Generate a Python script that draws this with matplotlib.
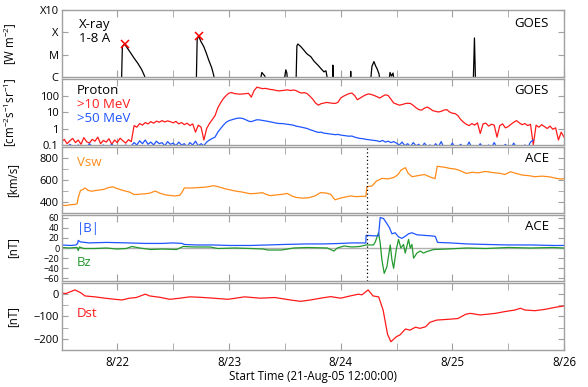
import numpy as np
import matplotlib
matplotlib.use("Agg")
import matplotlib.pyplot as plt
from matplotlib.ticker import FixedLocator, NullFormatter, NullLocator

plt.rcParams['font.family'] = ['Open Sans', 'DejaVu Sans']
plt.rcParams['mathtext.fontset'] = 'custom'
plt.rcParams['mathtext.rm'] = 'Open Sans'
plt.rcParams['mathtext.it'] = 'Open Sans'

# ---------------- data (time in days since 21-Aug-05 12:00) ----------------
xray_t = [0.0, 0.536, 0.545, 0.565, 0.592, 0.619, 0.650, 0.682, 0.717, 0.744, 0.762,
          1.206, 1.215, 1.229, 1.247, 1.274, 1.296, 1.318, 1.345, 1.363, 1.381,
          1.767, 1.794, 1.821, 1.839,
          1.982, 2.009, 2.018, 2.031,
          2.099, 2.108, 2.117, 2.143, 2.170, 2.197, 2.233, 2.260, 2.296, 2.323, 2.350, 2.368, 2.377, 2.395,
          2.426, 2.430, 2.436,
          2.585, 2.590, 2.596,
          2.762, 2.780, 2.798, 2.812, 2.825, 2.843, 2.861,
          2.924, 2.942, 2.955, 2.969, 2.987,
          3.686, 3.698, 3.709, 4.5]
xray_f = [3e-7, 3e-7, 2.4e-5, 3.0e-5, 1.9e-5, 1.2e-5, 7e-6, 4.2e-6, 2.2e-6, 1.1e-6, 3e-7,
          3e-7, 5e-5, 6.9e-5, 4e-5, 2.3e-5, 1.2e-5, 5.8e-6, 2.6e-6, 1.2e-6, 3e-7,
          3e-7, 1.6e-6, 1.1e-6, 3e-7,
          3e-7, 2.1e-6, 1.5e-6, 3e-7,
          3e-7, 2.5e-5, 3.0e-5, 2.3e-5, 1.6e-5, 1.1e-5, 8.1e-6, 5.2e-6, 3.4e-6, 2.4e-6, 1.7e-6, 1.9e-6, 1.1e-6, 3e-7,
          3e-7, 3.4e-6, 3e-7,
          3e-7, 1.8e-6, 3e-7,
          3e-7, 3e-6, 4.9e-6, 3.2e-6, 2.4e-6, 1.4e-6, 3e-7,
          3e-7, 1.6e-6, 1.1e-6, 1.5e-6, 3e-7,
          3e-7, 5.6e-5, 3e-7, 3e-7]
flare_t = [0.565, 1.229]
flare_f = [3.0e-5, 6.9e-5]

proton_step = 0.025
p10 = [0.15, 0.22, 0.12, 0.18, 0.25, 0.14, 0.2, 0.11, 0.28, 0.16, 0.13, 0.22, 0.17, 0.3, 0.12,
       0.19, 0.15, 0.24, 0.11, 0.2, 0.14, 0.26, 0.18, 0.13, 0.21, 0.16,
       1.5, 1.2, 2.0, 1.6, 2.3, 1.9, 2.6, 2.1, 2.8, 2.4, 3.0, 2.5, 2.9, 2.6, 2.2, 2.7, 1.9, 2.3,
       1.7, 2.1, 1.5, 1.9, 0.6, 1.6, 1.2, 0.2, 1.0, 2.0, 3.5, 6, 18, 36, 65, 100, 140, 150, 130,
       125, 120, 125, 130, 135, 80, 200, 320, 290, 260, 270, 250, 230, 220, 200, 190, 200, 210,
       220, 200, 215, 200, 160, 140, 150, 130, 90, 60, 35, 26, 32, 35, 38, 36, 34, 33, 38, 70,
       90, 110, 130, 140, 100, 55, 70, 90, 110, 125, 115, 100, 85, 70, 90, 110, 100, 60, 35, 30,
       26, 28, 32, 34, 33, 25, 18, 14, 13, 17, 20, 16, 12, 11, 10, 11, 13, 14, 10, 8.5, 8, 6,
       3.5, 2.4, 1.8, 1.5, 2.0, 1.6, 2.2, 0.5, 1.9, 2.1, 1.4, 1.8, 1.6, 0.3, 1.5, 1.9, 1.1, 1.3,
       1.8, 2.4, 3.0, 2.2, 1.7, 2.0, 1.5, 1.8, 0.1, 1.6, 1.2, 1.7, 1.3, 1.0, 1.4, 0.9, 1.1, 0.2,
       0.6, 0.3]
p50 = [0.08, 0.09, 0.07, 0.11, 0.08, 0.07, 0.1, 0.08, 0.09, 0.07, 0.12, 0.08, 0.07, 0.09,
       0.08, 0.1, 0.07, 0.08, 0.11, 0.08, 0.07, 0.09, 0.08, 0.1, 0.07, 0.09,
       0.14, 0.1, 0.18, 0.12, 0.2, 0.11, 0.15, 0.1, 0.17, 0.12, 0.14, 0.09, 0.16, 0.11, 0.13,
       0.09, 0.15, 0.1, 0.12, 0.08, 0.14, 0.1, 0.17, 0.09, 0.12, 0.09, 0.15, 0.2, 0.25, 0.3,
       0.6, 1.0, 1.6, 2.4, 3.0, 3.4, 3.8, 4.2, 4.3, 4.0, 3.4, 2.8, 2.6, 3.0, 3.4, 3.3, 3.1, 2.9,
       2.7, 2.5, 2.3, 2.1, 2.0, 2.0, 1.9, 1.8, 1.7, 1.6, 1.4, 1.3, 1.2, 1.1, 1.0, 0.85, 0.75,
       0.65, 0.58, 0.6, 0.52, 0.5, 0.47, 0.45, 0.42, 0.44, 0.4, 0.38, 0.36, 0.34, 0.35, 0.3,
       0.27, 0.25, 0.24, 0.22, 0.21, 0.2, 0.19, 0.18, 0.16, 0.19, 0.15, 0.17, 0.14, 0.16, 0.13,
       0.1, 0.15, 0.09, 0.12, 0.08, 0.14, 0.09, 0.11, 0.07, 0.13, 0.08, 0.1, 0.07, 0.12, 0.08,
       0.16, 0.07, 0.09, 0.07, 0.13, 0.07, 0.08, 0.11, 0.07, 0.07, 0.15, 0.07, 0.08, 0.07, 0.12,
       0.07, 0.07, 0.1, 0.07, 0.14, 0.07, 0.08, 0.07, 0.11, 0.07, 0.07, 0.13, 0.07, 0.08, 0.07,
       0.1, 0.07, 0.15, 0.2]

vsw_t = [0.0, 0.04, 0.08, 0.12, 0.14, 0.15, 0.17, 0.19, 0.21, 0.24, 0.27, 0.31, 0.345, 0.38,
         0.415, 0.46, 0.49, 0.52, 0.57, 0.61, 0.65, 0.685, 0.75, 0.79, 0.84, 0.88, 0.93, 0.97,
         1.02, 1.06, 1.08, 1.10, 1.15, 1.21, 1.29, 1.36, 1.40, 1.465, 1.51, 1.555, 1.62, 1.69,
         1.74, 1.80, 1.83, 1.87, 1.93, 1.98, 2.02, 2.07, 2.10, 2.155, 2.21, 2.27, 2.32, 2.37,
         2.41, 2.45, 2.50, 2.54, 2.59, 2.64, 2.69, 2.725, 2.735, 2.78, 2.82, 2.87, 2.925, 2.98,
         3.015, 3.04, 3.08, 3.105, 3.14, 3.195, 3.25, 3.30, 3.345, 3.365, 3.40, 3.435, 3.48,
         3.525, 3.57, 3.625, 3.68, 3.73, 3.795, 3.86, 3.93, 3.97, 4.02, 4.07, 4.125, 4.18, 4.24,
         4.305, 4.375, 4.43, 4.475, 4.5]
vsw_v = [372, 368, 375, 378, 385, 440, 505, 512, 528, 505, 498, 505, 510, 515, 530, 538, 525,
         515, 500, 490, 468, 470, 475, 480, 500, 480, 465, 460, 455, 462, 490, 528, 527, 530,
         535, 548, 540, 520, 510, 500, 490, 475, 478, 485, 470, 458, 465, 470, 478, 452, 442,
         435, 438, 455, 485, 482, 470, 420, 436, 445, 455, 448, 452, 450, 540, 545, 590, 615,
         610, 625, 650, 690, 712, 660, 630, 640, 650, 628, 612, 725, 720, 715, 705, 700, 685,
         660, 670, 665, 678, 668, 660, 650, 675, 660, 645, 640, 630, 635, 628, 615, 608, 615]

b_t = [0.0, 0.08, 0.13, 0.145, 0.15, 0.17, 0.25, 0.4, 0.6, 0.75, 0.9, 1.0, 1.08, 1.1, 1.2,
       1.35, 1.5, 1.7, 1.85, 2.0, 2.2, 2.35, 2.5, 2.6, 2.7, 2.725, 2.728, 2.794, 2.839, 2.854,
       2.884, 2.914, 2.937, 2.959, 2.988, 3.018, 3.048, 3.078, 3.108, 3.138, 3.183, 3.242,
       3.302, 3.347, 3.368, 3.481, 3.631, 3.8, 4.0, 4.2, 4.4, 4.5]
b_mag = [6, 5, 6, 9, 15, 12, 10, 11, 10, 9, 9, 10, 9, 7, 6, 6, 5, 5, 6, 7, 8, 8, 9, 10, 10,
         10, 25, 24, 24, 60, 58, 48, 40, 28, 30, 22, 19, 23, 28, 30, 26, 25, 24, 23, 11, 10, 8,
         7, 6, 6, 5, 5]
bz_t = [0.0, 0.07, 0.14, 0.15, 0.16, 0.2, 0.3, 0.4, 0.5, 0.58, 0.63, 0.7, 0.8, 0.9, 1.03,
        1.09, 1.19, 1.33, 1.4, 1.55, 1.7, 1.8, 1.85, 1.97, 2.08, 2.2, 2.38, 2.44, 2.47, 2.53,
        2.6, 2.67, 2.69, 2.728, 2.794, 2.81, 2.839, 2.854, 2.869, 2.89, 2.914, 2.944, 2.959,
        2.974, 2.998, 3.018, 3.039, 3.063, 3.078, 3.108, 3.123, 3.138, 3.153, 3.183, 3.212,
        3.242, 3.272, 3.332, 3.452, 3.631, 3.8, 4.0, 4.2, 4.4, 4.5]
bz_v = [1, 0, 1, -5, 2, -1, -1, 0, -2, -1, 3, 0, -3, -2, -3, 3, 2, 2, -1, 0, -1, -2, -4, -4,
        0, 1, 0, -6, 0, 4, 2, 3, 4, 6, 6, 12, 30, 10, -23, -50, -37, 6, -23, -40, -3, 17, 0, 7,
        -10, 17, 0, 7, -20, -10, -6, -10, -7, -3, -2, 0, -1, 1, 0, 1, 0]

dst_t = [0.0, 0.04, 0.12, 0.17, 0.21, 0.30, 0.39, 0.48, 0.54, 0.61, 0.67, 0.75, 0.79, 0.88,
         0.97, 1.06, 1.15, 1.24, 1.36, 1.49, 1.64, 1.78, 1.91, 2.05, 2.14, 2.23, 2.32, 2.41,
         2.50, 2.585, 2.66, 2.69, 2.746, 2.79, 2.84, 2.88, 2.92, 2.95, 3.0, 3.03, 3.08, 3.12,
         3.17, 3.21, 3.26, 3.30, 3.36, 3.48, 3.55, 3.62, 3.66, 3.75, 3.885, 3.97, 4.06, 4.11,
         4.15, 4.24, 4.33, 4.42, 4.5]
dst_v = [5, 3, 19, 7, -8, -12, -18, -23, -26, -18, -15, 0, -8, -14, -23, -18, -12, -14, -18,
         -23, -12, -18, -15, -26, -32, -26, -18, -11, -18, -8, 0, -3, 19, -8, -12, -71, -180,
         -213, -190, -183, -156, -161, -148, -153, -146, -126, -116, -112, -109, -90, -86, -93,
         -86, -78, -71, -63, -71, -74, -68, -59, -53]

shock_t = 2.733
day_ticks = [0.5, 1.5, 2.5, 3.5, 4.5]
day_labels = ['8/22', '8/23', '8/24', '8/25', '8/26']
halfday_ticks = [0.0, 1.0, 2.0, 3.0, 4.0]

# ---------------- figure ----------------
W, H = 588, 387
fig = plt.figure(figsize=(W / 100, H / 100), dpi=100)
left = 61.5 / W
width = (564 - 61.5) / W
panels_px = [(10, 77), (79, 145), (147, 213), (215, 281), (283, 350)]
axes = []
for top, bot in panels_px:
    ax = fig.add_axes([left, 1 - bot / H, width, (bot - top) / H])
    axes.append(ax)

frame_col = '#a0a0a0'
fs = 8.3
fs_y = 8.0
for ax in axes:
    ax.set_xlim(0, 4.5)
    for s in ax.spines.values():
        s.set_color(frame_col)
        s.set_linewidth(1.0)
    ax.xaxis.set_major_locator(FixedLocator(day_ticks))
    ax.xaxis.set_minor_locator(FixedLocator(halfday_ticks))
    ax.tick_params(axis='both', which='both', direction='in', color=frame_col,
                   top=True, right=True, labelsize=fs, pad=2)
    ax.tick_params(axis='y', labelsize=fs_y)
    ax.tick_params(axis='x', which='both', length=5)
    ax.tick_params(axis='y', which='major', length=4)
    ax.tick_params(axis='y', which='minor', length=4)
    ax.set_xticklabels([])
    ax.yaxis.set_label_coords(-0.085, 0.5)

c_red = '#ff1a1a'
c_blue = '#1f55ff'
c_orange = '#ff8c1a'
c_green = '#239a2d'
lw = 0.9

# Panel 1: X-ray
ax = axes[0]
ax.semilogy(xray_t, xray_f, color='black', lw=lw)
ax.plot(flare_t, flare_f, 'x', color='red', ms=6, mew=1.1)
ax.set_ylim(1e-6, 1e-3)
ax.yaxis.set_major_locator(FixedLocator([1e-6, 1e-5, 1e-4, 1e-3]))
ax.yaxis.set_minor_locator(NullLocator())
ax.set_yticklabels(['C', 'M', 'X', 'X10'])
ax.set_ylabel('[W m$^{-2}$]', fontsize=fs)
ax.text(0.035, 0.88, 'X-ray\n1-8 A', transform=ax.transAxes, fontsize=9.5, va='top',
        linespacing=1.05)
ax.text(0.97, 0.80, 'GOES', transform=ax.transAxes, fontsize=9.5, ha='right', va='center')

# Panel 2: protons
ax = axes[1]
tp = np.arange(len(p10)) * proton_step
ax.semilogy(tp, p10, color=c_red, lw=lw)
ax.semilogy(tp[:len(p50)], p50, color=c_blue, lw=lw)
ax.set_ylim(0.1, 1000)
ax.yaxis.set_major_locator(FixedLocator([0.1, 1, 10, 100]))
ax.yaxis.set_minor_locator(NullLocator())
ax.set_yticklabels(['0.1', '1', '10', '100'])
ax.set_ylabel('[cm$^{-2}$s$^{-1}$sr$^{-1}$]', fontsize=fs)
ax.text(0.03, 0.83, 'Proton', transform=ax.transAxes, fontsize=9.5, va='center')
ax.text(0.03, 0.62, '>10 MeV', transform=ax.transAxes, fontsize=9.5, va='center', color=c_red)
ax.text(0.03, 0.40, '>50 MeV', transform=ax.transAxes, fontsize=9.5, va='center', color=c_blue)
ax.text(0.97, 0.82, 'GOES', transform=ax.transAxes, fontsize=9.5, ha='right', va='center')

# Panel 3: Vsw
ax = axes[2]
ax.plot(vsw_t, vsw_v, color=c_orange, lw=lw)
ax.axvline(shock_t, color='black', ls=(0, (1, 2)), lw=0.9)
ax.set_ylim(300, 900)
ax.yaxis.set_major_locator(FixedLocator([400, 600, 800]))
ax.yaxis.set_minor_locator(FixedLocator([500, 700]))
ax.yaxis.set_minor_formatter(NullFormatter())
ax.set_ylabel('[km/s]', fontsize=fs)
ax.text(0.03, 0.77, 'Vsw', transform=ax.transAxes, fontsize=9.5, va='center', color=c_orange)
ax.text(0.97, 0.82, 'ACE', transform=ax.transAxes, fontsize=9.5, ha='right', va='center')

# Panel 4: B
ax = axes[3]
ax.axhline(0, color='#b0b0b0', lw=1.0)
ax.plot(bz_t, bz_v, color=c_green, lw=lw)
ax.plot(b_t, b_mag, color=c_blue, lw=lw)
ax.axvline(shock_t, color='black', ls=(0, (1, 2)), lw=0.9)
ax.set_ylim(-65, 65)
ax.yaxis.set_major_locator(FixedLocator([-60, -40, -20, 0, 20, 40, 60]))
ax.yaxis.set_minor_locator(NullLocator())
ax.tick_params(axis='y', labelsize=6.6, pad=1.5)
ax.set_ylabel('[nT]', fontsize=fs)
ax.text(0.03, 0.80, '|B|', transform=ax.transAxes, fontsize=9.5, va='center', color=c_blue)
ax.text(0.03, 0.28, 'Bz', transform=ax.transAxes, fontsize=9.5, va='center', color=c_green)
ax.text(0.97, 0.82, 'ACE', transform=ax.transAxes, fontsize=9.5, ha='right', va='center')

# Panel 5: Dst
ax = axes[4]
ax.plot(dst_t, dst_v, color=c_red, lw=lw)
ax.set_ylim(-250, 50)
ax.yaxis.set_major_locator(FixedLocator([-200, -100, 0]))
ax.yaxis.set_minor_locator(FixedLocator([-150, -50]))
ax.yaxis.set_minor_formatter(NullFormatter())
ax.set_ylabel('[nT]', fontsize=fs)
ax.text(0.03, 0.55, 'Dst', transform=ax.transAxes, fontsize=9.5, va='center', color=c_red)
ax.set_xticklabels(day_labels)
ax.tick_params(axis='x', which='major', pad=4)
ax.set_xlabel('Start Time (21-Aug-05 12:00:00)', fontsize=fs, labelpad=1)

fig.savefig('out.png', dpi=100)
